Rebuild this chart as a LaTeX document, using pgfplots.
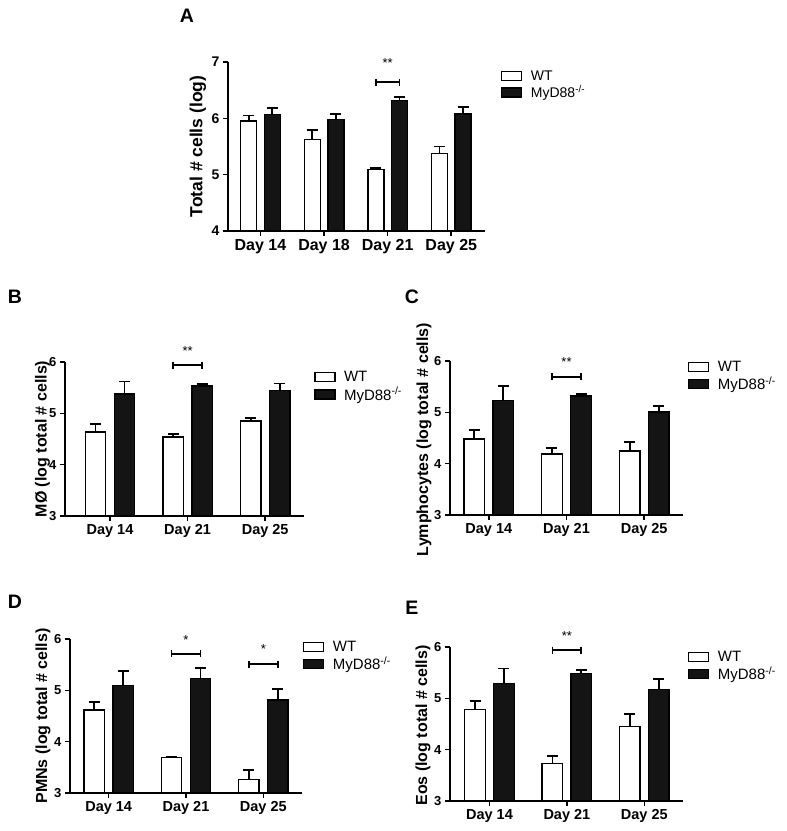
\documentclass[border=0pt]{standalone}
\usepackage{fontspec}
\setmainfont{Liberation Sans}
\usepackage{pgfplots}
\usepackage{pgfplotstable}
\pgfplotsset{compat=1.18}

\newcommand{\fs}[1]{\fontsize{#1}{#1}\selectfont}

% columns: bar position WT, WT mean, WT SEM, bar position MyD88-/-, mean, SEM
\pgfplotstableread{
xw wt wte xk ko koe
0.814 5.95 0.10 1.186 6.07 0.11
1.814 5.62 0.17 2.186 5.98 0.10
2.814 5.09 0.03 3.186 6.32 0.06
3.814 5.38 0.12 4.186 6.08 0.12
}\dataA
\pgfplotstableread{
xw wt wte xk ko koe
0.813 4.64 0.16 1.187 5.38 0.24
1.813 4.54 0.06 2.187 5.53 0.04
2.813 4.85 0.06 3.187 5.45 0.13
}\dataB
\pgfplotstableread{
xw wt wte xk ko koe
0.813 4.48 0.18 1.187 5.23 0.28
1.813 4.19 0.12 2.187 5.32 0.04
2.813 4.25 0.17 3.187 5.01 0.12
}\dataC
\pgfplotstableread{
xw wt wte xk ko koe
0.813 4.62 0.16 1.187 5.09 0.29
1.813 3.69 0.02 2.187 5.23 0.20
2.813 3.26 0.19 3.187 4.81 0.21
}\dataD
\pgfplotstableread{
xw wt wte xk ko koe
0.813 4.78 0.17 1.187 5.29 0.29
1.813 3.73 0.14 2.187 5.48 0.07
2.813 4.45 0.24 3.187 5.17 0.21
}\dataE

\pgfplotsset{
  panel/.style={
    scale only axis, anchor=south west,
    axis lines=left, axis line style={-, line width=1.8pt},
    tick align=outside, major tick length=5pt,
    tick style={black, line width=1.6pt},
    /pgf/number format/assume math mode=true,
    yticklabel style={font=\bfseries\fs{13}},
    xticklabel style={font=\bfseries\fs{14.5}},
    ylabel style={font=\bfseries\fs{16}, anchor=center},
    ymin=3, ymax=6, ytick={3,4,5,6},
    xtick={1,2,3}, xticklabels={Day 14,Day 21,Day 25},
    legend style={draw=none, fill=none, inner sep=0pt, anchor=north west,
      font=\fs{15}, row sep=1pt, column sep=7pt, nodes={inner sep=1.5pt}},
    legend cell align=left,
    legend image code/.code={\draw[line width=1.3pt, ##1] (0pt,-4.5pt) rectangle (20pt,4.5pt);},
  },
  errs/.style={error bars/y dir=plus, error bars/y explicit,
    error bars/error bar style={line width=1.8pt, black},
    error bars/error mark options={rotate=90, mark size=5.5pt, line width=1.8pt, black}},
  wt/.style={ybar, bar width=#1, bar shift=0pt, draw=black, fill=white,
    line width=1.4pt, forget plot, errs},
  ko/.style={ybar, bar width=#1, bar shift=0pt, draw=black, fill=black!92,
    line width=1.4pt, forget plot, errs},
  sig/.style={black, line width=1.8pt, mark=|, mark size=3.5pt, forget plot},
}

\begin{document}
\begin{tikzpicture}
\useasboundingbox (0,0) rectangle (787pt,831pt);

% ---------- A ----------
\begin{axis}[panel, at={(228pt,600pt)}, width=257pt, height=169pt,
  xmin=0.49, xmax=4.53, ymin=4, ymax=7, ytick={4,5,6,7},
  xtick={1,2,3,4}, xticklabels={Day 14,Day 18,Day 21,Day 25},
  xticklabel style={font=\bfseries\fs{16}},
  yticklabel style={font=\bfseries\fs{14}},
  ylabel={Total \# cells (log)},
  ylabel style={font=\bfseries\fs{17.5}, at={(axis description cs:-0.117,0.5)}},
  legend style={at={(axis description cs:1.062,0.96)}, font=\fs{14}}]
\addplot[wt=16pt] table[x=xw, y=wt, y error=wte] {\dataA};
\addplot[ko=16pt] table[x=xk, y=ko, y error=koe] {\dataA};
\addplot[sig] coordinates {(2.814,6.64) (3.186,6.64)};
\coordinate (sA) at (axis cs:3,7.06);
\addlegendimage{fill=white, draw=black}
\addlegendentry{WT}
\addlegendimage{fill=black!92, draw=black}
\addlegendentry{MyD88\textsuperscript{-/-}}
\end{axis}

% ---------- B ----------
\begin{axis}[panel, at={(65pt,315pt)}, width=239pt, height=154pt,
  xmin=0.42, xmax=3.5,
  ylabel={MØ (log total \# cells)},
  ylabel style={at={(axis description cs:-0.094,0.5)}},
  legend style={at={(axis description cs:1.042,0.95)}}]
\addplot[wt=20.5pt] table[x=xw, y=wt, y error=wte] {\dataB};
\addplot[ko=20.5pt] table[x=xk, y=ko, y error=koe] {\dataB};
\addplot[sig] coordinates {(1.813,5.935) (2.187,5.935)};
\coordinate (sB) at (axis cs:2,6.31);
\addlegendimage{fill=white, draw=black}
\addlegendentry{WT}
\addlegendimage{fill=black!92, draw=black}
\addlegendentry{MyD88\textsuperscript{-/-}}
\end{axis}

% ---------- C ----------
\begin{axis}[panel, at={(450pt,316pt)}, width=233pt, height=154pt,
  xmin=0.5, xmax=3.5,
  ylabel={Lymphocytes (log total \# cells)},
  ylabel style={at={(axis description cs:-0.112,0.49)}},
  legend style={at={(axis description cs:1.021,1.01)}}]
\addplot[wt=20.5pt] table[x=xw, y=wt, y error=wte] {\dataC};
\addplot[ko=20.5pt] table[x=xk, y=ko, y error=koe] {\dataC};
\addplot[sig] coordinates {(1.813,5.69) (2.187,5.69)};
\coordinate (sC) at (axis cs:2,6.07);
\addlegendimage{fill=white, draw=black}
\addlegendentry{WT}
\addlegendimage{fill=black!92, draw=black}
\addlegendentry{MyD88\textsuperscript{-/-}}
\end{axis}

% ---------- D ----------
\begin{axis}[panel, at={(70pt,38pt)}, width=232pt, height=154pt,
  xmin=0.5, xmax=3.5,
  ylabel={PMNs (log total \# cells)},
  ylabel style={at={(axis description cs:-0.116,0.5)}},
  legend style={at={(axis description cs:1.004,0.997)}}]
\addplot[wt=20.5pt] table[x=xw, y=wt, y error=wte] {\dataD};
\addplot[ko=20.5pt] table[x=xk, y=ko, y error=koe] {\dataD};
\addplot[sig] coordinates {(1.813,5.71) (2.187,5.71)};
\addplot[sig] coordinates {(2.813,5.51) (3.187,5.51)};
\coordinate (sD1) at (axis cs:2,6.08);
\coordinate (sD2) at (axis cs:3,5.90);
\addlegendimage{fill=white, draw=black}
\addlegendentry{WT}
\addlegendimage{fill=black!92, draw=black}
\addlegendentry{MyD88\textsuperscript{-/-}}
\end{axis}

% ---------- E ----------
\begin{axis}[panel, at={(450pt,30pt)}, width=233pt, height=154pt,
  xmin=0.49, xmax=3.5,
  ylabel={Eos (log total \# cells)},
  ylabel style={at={(axis description cs:-0.116,0.49)}},
  legend style={at={(axis description cs:1.021,0.984)}}]
\addplot[wt=20.5pt] table[x=xw, y=wt, y error=wte] {\dataE};
\addplot[ko=20.5pt] table[x=xk, y=ko, y error=koe] {\dataE};
\addplot[sig] coordinates {(1.813,5.94) (2.187,5.94)};
\coordinate (sE) at (axis cs:2,6.30);
\addlegendimage{fill=white, draw=black}
\addlegendentry{WT}
\addlegendimage{fill=black!92, draw=black}
\addlegendentry{MyD88\textsuperscript{-/-}}
\end{axis}

% significance stars
\foreach \c/\t in {sA/**,sB/**,sC/**,sD1/*,sD2/*,sE/**}
  \node[anchor=north, inner sep=0pt, font=\fs{13}] at (\c) {\t};

% panel letters
\node[font=\bfseries\fs{19.5}] at (187pt,815pt) {A};
\node[font=\bfseries\fs{19.5}] at (15pt,534pt) {B};
\node[font=\bfseries\fs{19.5}] at (412pt,534pt) {C};
\node[font=\bfseries\fs{19.5}] at (15pt,229pt) {D};
\node[font=\bfseries\fs{19.5}] at (412pt,223pt) {E};
\end{tikzpicture}
\end{document}
